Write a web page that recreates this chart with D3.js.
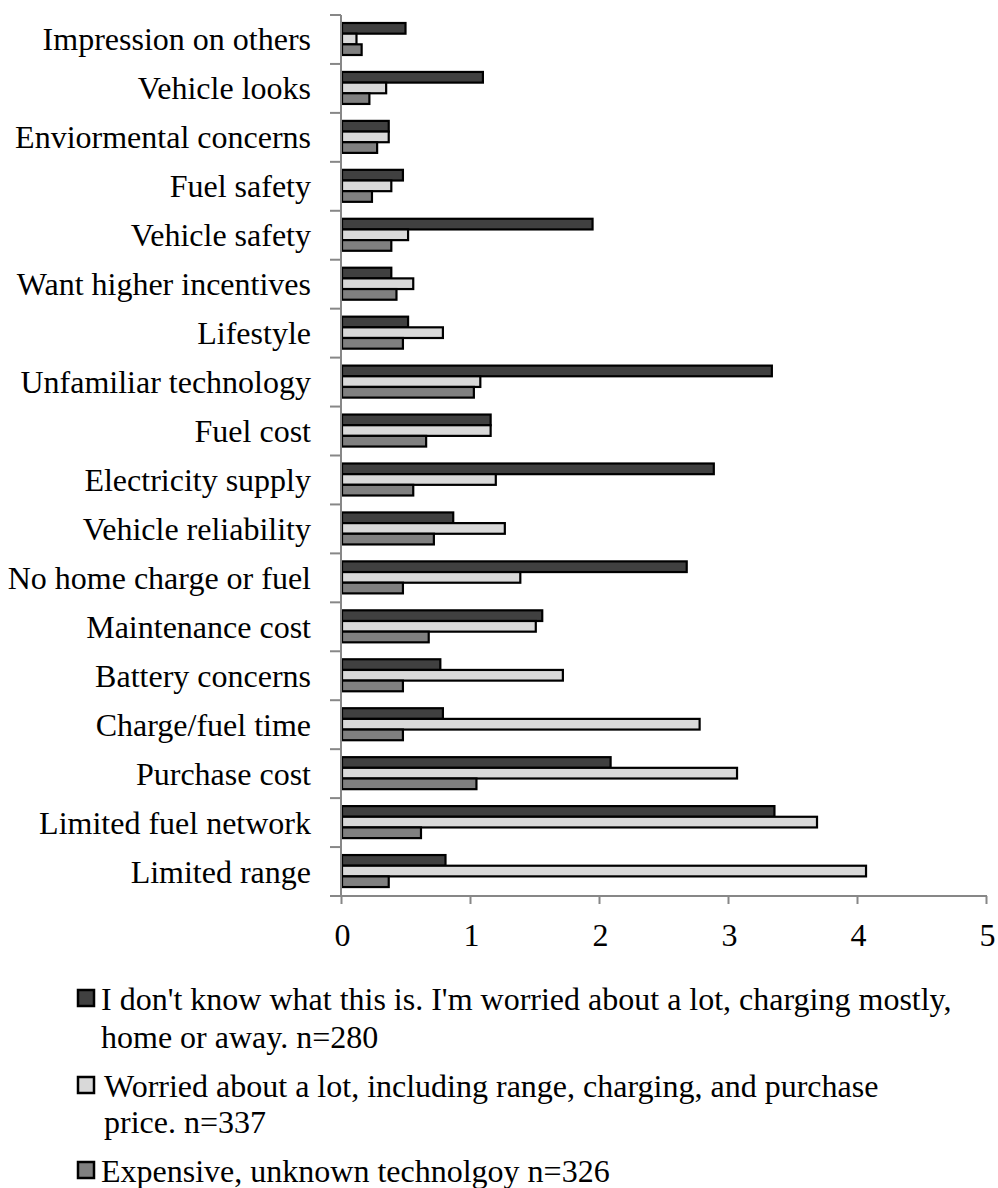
<!DOCTYPE html>
<html>
<head>
<meta charset="utf-8">
<script src="https://cdn.jsdelivr.net/npm/d3@7"></script>
<style>
  html, body { margin: 0; padding: 0; background: #fff; }
  svg { display: block; }
  text { font-family: "Liberation Serif", "Times New Roman", serif; fill: #000; }
</style>
</head>
<body>
<svg id="chart" width="998" height="1188"></svg>
<script>
const categories = [
  "Impression on others", "Vehicle looks", "Enviormental concerns", "Fuel safety",
  "Vehicle safety", "Want higher incentives", "Lifestyle", "Unfamiliar technology",
  "Fuel cost", "Electricity supply", "Vehicle reliability", "No home charge or fuel",
  "Maintenance cost", "Battery concerns", "Charge/fuel time", "Purchase cost",
  "Limited fuel network", "Limited range"
];
const seriesNames = ["s1", "s2", "s3"];
const legendLabels = [
  ["I don't know what this is. I'm worried about a lot, charging mostly,", "home or away. n=280"],
  ["Worried about a lot, including range, charging, and purchase", "price. n=337"],
  ["Expensive, unknown technolgoy n=326"]
];
const s1 = [0.50, 1.10, 0.37, 0.48, 1.95, 0.39, 0.52, 3.34, 1.16, 2.89, 0.87, 2.68, 1.56, 0.77, 0.79, 2.09, 3.36, 0.81];
const s2 = [0.12, 0.35, 0.37, 0.39, 0.52, 0.56, 0.79, 1.08, 1.16, 1.20, 1.27, 1.39, 1.51, 1.72, 2.78, 3.07, 3.69, 4.07];
const s3 = [0.16, 0.22, 0.28, 0.24, 0.39, 0.43, 0.48, 1.03, 0.66, 0.56, 0.72, 0.48, 0.68, 0.48, 0.48, 1.05, 0.62, 0.37];
const xTicks = [0, 1, 2, 3, 4, 5];

const colors = ["#404040", "#d9d9d9", "#808080"];
const seriesData = [s1, s2, s3];

const svg = d3.select("#chart");
const axisColor = "#878787";

const x = d3.scaleLinear().domain([0, 5]).range([342, 987]);
const y = d3.scaleBand().domain(categories).range([15, 896]).padding(0);
const yInner = d3.scaleBand().domain(seriesNames).range([8, 40]).padding(0);

// bars
categories.forEach((c, i) => {
  seriesNames.forEach((s, j) => {
    const v = seriesData[j][i];
    svg.append("rect")
      .attr("x", x(0))
      .attr("y", y(c) + yInner(s))
      .attr("width", Math.max(0, x(v) - x(0) - 1))
      .attr("height", yInner.bandwidth())
      .attr("fill", colors[j])
      .attr("stroke", "#000")
      .attr("stroke-width", 2.2);
  });
});

// y axis line and band ticks
const yTop = y.range()[0], yBot = y.range()[1];
svg.append("line")
  .attr("x1", x(0) - 1).attr("x2", x(0) - 1)
  .attr("y1", yTop).attr("y2", yBot)
  .attr("stroke", axisColor).attr("stroke-width", 2);
const bounds = categories.map(c => y(c)).concat([yBot]);
svg.selectAll(".ytick").data(bounds).enter().append("line")
  .attr("x1", x(0) - 12).attr("x2", x(0) - 1)
  .attr("y1", d => d).attr("y2", d => d)
  .attr("stroke", axisColor).attr("stroke-width", 2);

// x axis
const xAxis = d3.axisBottom(x).tickValues(xTicks).tickSize(8).tickSizeOuter(0).tickFormat(d3.format("d"));
const gx = svg.append("g").attr("transform", `translate(0,${yBot})`).call(xAxis);
gx.select(".domain").remove();
gx.selectAll(".tick line").attr("stroke", axisColor).attr("stroke-width", 2).attr("transform", "translate(-1,0)");
gx.selectAll(".tick text")
  .attr("y", 50).attr("dy", 0)
  .style("font-family", '"Liberation Serif", "Times New Roman", serif')
  .style("font-size", "32px").attr("fill", "#000");
svg.append("line")
  .attr("x1", x(0) - 12).attr("x2", x(5))
  .attr("y1", yBot).attr("y2", yBot)
  .attr("stroke", axisColor).attr("stroke-width", 2);

// category labels
svg.selectAll(".clabel").data(categories).enter().append("text")
  .attr("x", 311)
  .attr("y", d => y(d) + y.bandwidth() / 2 + 11)
  .attr("text-anchor", "end")
  .style("font-size", "32px")
  .text(d => d);

// legend
const legendY = [[1010, 1048], [1097, 1133], [1182]];
legendLabels.forEach((lines, i) => {
  const by = legendY[i][0];
  svg.append("rect")
    .attr("x", 78).attr("y", by - 20)
    .attr("width", 16).attr("height", 16)
    .attr("fill", colors[i]).attr("stroke", "#000").attr("stroke-width", 2.5);
  lines.forEach((t, k) => {
    svg.append("text")
      .attr("x", i === 1 ? 104 : 101)
      .attr("y", legendY[i][k])
      .style("font-size", "32px")
      .text(t);
  });
});
</script>
</body>
</html>
